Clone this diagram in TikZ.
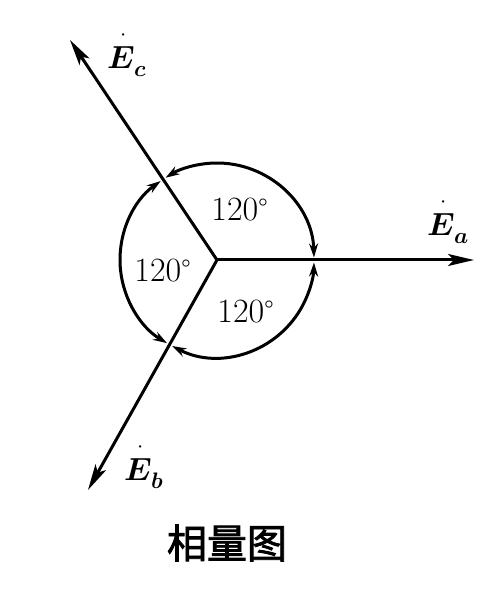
\documentclass[tikz,border=0pt]{standalone}
\usepackage{unicode-math}
\newfontfamily\cjk[FakeBold=2]{Noto Sans CJK SC}
\usetikzlibrary{arrows.meta}
\newcommand{\phasorE}[1]{\overset{\mkern4mu\cdot}{\mathbfit{E}}_{\mathbfit{#1}}}
\begin{document}
\begin{tikzpicture}[x=1pt,y=1pt,
  vec/.style={line width=3pt,-{Stealth[length=26pt,width=12pt,inset=6pt]}},
  anglearc/.style={line width=3pt,{Stealth[length=14pt,width=9pt]}-{Stealth[length=14pt,width=9pt]}},
  deg/.style={font=\fontsize{34}{36}\selectfont,inner sep=0pt},
  vlabel/.style={font=\fontsize{32}{34}\selectfont,inner sep=0pt},
  caption/.style={font=\fontsize{40}{44}\selectfont\cjk,inner sep=0pt}]
\useasboundingbox (0,0) rectangle (493,595);
\fill[white] (0,0) rectangle (493,595);
\coordinate (O) at (217,335);
\coordinate (A) at (474,335);
\coordinate (C) at (70,555);
\coordinate (B) at (88,105);
% circle with angle arcs
\draw[anglearc] ([shift={(1.5:97)}]O) arc[start angle=1.5,end angle=122,radius=97];
\draw[anglearc] ([shift={(125.5:97)}]O) arc[start angle=125.5,end angle=239,radius=97];
\draw[anglearc] ([shift={(242.5:97)}]O) arc[start angle=242.5,end angle=358.5,radius=97];
% phasors
\draw[vec] (O) -- (A);
\draw[vec] (O) -- (C);
\draw[vec] (O) -- (B);
% labels
\node[vlabel] (la) at (448,375) {$\phasorE{a}$};
\node[vlabel] (lc) at (127,542) {$\phasorE{c}$};
\node[vlabel] (lb) at (144,130) {$\phasorE{b}$};
\node[deg] (d1) at (240,385) {120$^\circ$};
\node[deg] (d2) at (163,324) {120$^\circ$};
\node[deg] (d3) at (246,283) {120$^\circ$};
\node[caption] (cap) at (227,52) {相量图};
\end{tikzpicture}
\end{document}
